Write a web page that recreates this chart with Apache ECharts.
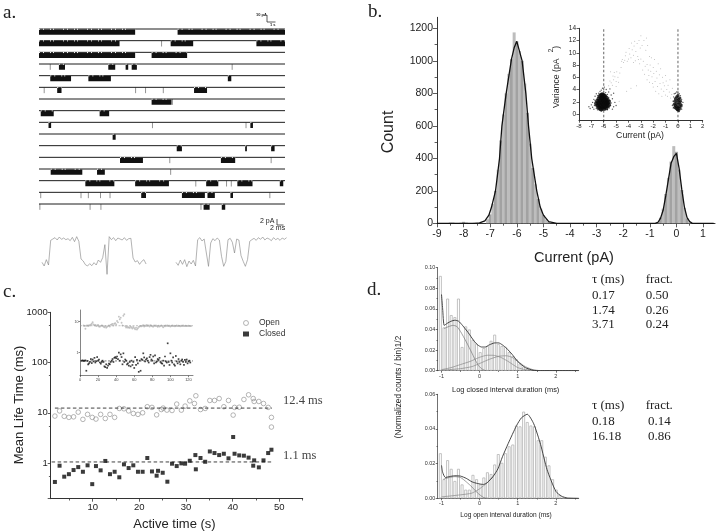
<!DOCTYPE html>
<html><head><meta charset="utf-8">
<script src="https://cdn.jsdelivr.net/npm/echarts@6/dist/echarts.min.js"></script>
<style>html,body{margin:0;padding:0;background:#fff}#c{width:720px;height:532px;filter:blur(0.4px)}</style>
</head><body><div id="c"></div>
<script>
// ---------- panel a: burst edges (s) per sweep, brief spikes (s) per sweep
const burstEdges = [
 [0,11.1,16.0,28.4],
 [0,9.3,15.2,17.8,25.1,28.4],
 [0,11.1,13.0,17.1],
 [2.3,3.0,8.0,8.8,10.0,10.3,10.7,11.3],
 [1.3,3.7,5.7,8.3,21.8,22.2],
 [2.1,2.6,17.9,19.4],
 [13.0,15.3],
 [0.2,1.7,7.0,8.1],
 [1.1,1.4,24.4,24.7],
 [8.5,8.85],
 [15.9,16.5,23.8,24.0,26.8,27.2],
 [9.35,12.0,21.0,22.65],
 [1.35,5.0,6.7,7.6],
 [5.35,8.7,11.1,15.0,19.3,20.7,22.9,24.65,27.8,28.2],
 [11.8,12.35,16.5,19.15,19.45,20.3,22.1,22.4],
 [19.0,19.7,21.1,21.5]
];
const spikeTimes = [
 [],[14.15],[],[1.3,22.3],[],[0.6,11.15,12.3,14.35],[15.4],[],[13.1,23.9],[],[],[15.1,26.8],[15.2],[18.1,21.65,22.2],[0.2,4.85,5.7,7.1,8.2,26.65],[0.1,5.9,7.15,18.7]
];
const sweepLength = 28.4;
// sample records (pA above closed level), 0.5 ms apart
const recordA = [0.2,-0.9,1.0,-0.6,6.8,7.2,7.6,6.9,7.8,7.1,7.5,7.0,7.3,6.7,7.7,6.4,7.9,6.5,1.2,0.6,-0.5,-0.9,-0.2,-0.8,0.1,-0.6,0.9,0.2,1.6,5.5,-3.4,7.9,7.0,7.6,6.7,7.5,7.2,6.9,7.6,6.8,7.3,7.4,1.5,0.3,0.7,-0.4,0.5,1.0,-0.3];
const recordB = [0.2,-0.7,0.9,-0.4,1.0,-1.1,0.6,-0.3,0.8,-0.9,7.0,7.6,6.6,7.2,3.0,-1.0,6.0,7.3,6.7,7.5,6.9,2.0,-1.0,0.5,7.0,7.4,6.2,3.0,7.2,6.9,2.2,0.5,-1.0,1.0,6.5,7.0,7.4,6.8,7.6,7.1,7.8,6.9,7.5,7.2,6.7,7.6,7.0,7.4,6.8,7.5,7.1,7.6];
const recordBStart = 30.9, recordStep = 0.5;

// ---------- panel b
const histBins = [-8.5,-8.4,-8.1,-8.0,-7.9,-7.6,-7.1,-7.0,-6.9,-6.8,-6.7,-6.6,-6.5,-6.4,-6.3,-6.2,-6.1,-6.0,-5.9,-5.8,-5.7,-5.6,-5.5,-5.4,-5.3,-5.2,-5.1,-5.0,-4.9,-4.8,-0.7,-0.6,-0.5,-0.4,-0.3,-0.2,-0.1,0.0,0.1,0.2,0.3,0.4,0.5];
const histCounts = [5,4,4,9,5,3,25,55,120,200,330,510,670,800,920,1010,1175,1120,1060,1000,860,680,490,340,240,150,90,50,25,8,8,35,90,180,280,380,475,440,330,205,95,30,8];
const fitX = [-9,-7.6,-7.4,-7.2,-7.05,-6.95,-6.8,-6.65,-6.56,-6.4,-6.2,-6.1,-6.0,-5.9,-5.8,-5.66,-5.56,-5.44,-5.25,-5.12,-5.0,-4.8,-4.5,-0.8,-0.7,-0.6,-0.5,-0.4,-0.3,-0.2,-0.1,0,0.1,0.2,0.3,0.4,0.5,0.6,1.4];
const fitY = [0,0,2,15,50,100,200,400,600,800,1010,1080,1120,1060,1000,800,600,400,200,100,50,10,0,0,5,30,80,170,270,370,410,430,340,210,100,35,10,0,0];
const insetCoreLeft = [[-6.6,1.7],[-6.5,2.1],[-6.5,1.4],[-6.4,2.5],[-6.4,1.8],[-6.4,1.1],[-6.3,2.9],[-6.3,2.2],[-6.3,1.5],[-6.3,0.9],[-6.2,3.1],[-6.2,2.6],[-6.2,1.9],[-6.2,1.3],[-6.2,0.8],[-6.1,3.2],[-6.1,2.7],[-6.1,2.2],[-6.1,1.7],[-6.1,1.1],[-6.0,3.0],[-6.0,2.5],[-6.0,2.0],[-6.0,1.5],[-6.0,0.9],[-5.9,2.9],[-5.9,2.3],[-5.9,1.8],[-5.9,1.2],[-5.8,2.6],[-5.8,2.1],[-5.8,1.6],[-5.8,1.0],[-5.7,2.3],[-5.7,1.8],[-5.7,1.3],[-5.6,2.0],[-5.6,1.5]];
const insetCoreRight = [[-0.3,1.6],[-0.25,1.1],[-0.25,2.1],[-0.2,1.4],[-0.2,2.5],[-0.15,0.9],[-0.15,1.8],[-0.1,2.8],[-0.1,1.2],[-0.05,2.2],[-0.05,0.7],[0,1.6],[0,3.0],[0,1.0],[0.05,2.4],[0.05,0.6],[0.1,1.9],[0.1,1.2],[0.15,2.6],[0.15,0.9],[0.2,1.6],[0.2,2.1],[0.25,1.3]];
const insetFringe = [[-7.2,1.2],[-7.1,0.9],[-7.0,1.5],[-6.9,1.9],[-6.9,1.1],[-6.8,2.4],[-6.8,0.8],[-6.75,1.4],[-6.7,2.9],[-6.7,2.2],[-6.6,3.3],[-6.6,0.9],[-6.5,3.0],[-6.5,0.7],[-6.4,3.4],[-6.3,3.7],[-6.2,3.9],[-6.2,0.5],[-6.1,4.2],[-6.0,3.7],[-5.95,4.4],[-5.9,0.6],[-5.85,3.5],[-5.8,4.0],[-5.7,3.2],[-5.7,0.7],[-5.6,3.6],[-5.6,2.7],[-5.55,1.0],[-5.5,2.2],[-5.5,4.1],[-5.45,1.4],[-5.4,3.1],[-5.4,1.8],[-5.3,2.5],[-5.3,0.8],[-5.2,1.2],[-5.2,3.4],[-5.1,1.9],[-5.0,1.4],[-0.45,1.4],[-0.4,2.1],[-0.38,1.0],[-0.35,2.8],[-0.3,3.3],[-0.2,3.4],[-0.1,3.6],[0,3.6],[0.1,3.3],[0.2,3.0],[0.3,2.4],[0.35,1.5],[0.4,1.9],[0.3,0.8],[0.1,0.4]];
const insetArc = [[-5.6,4.6],[-5.5,5.4],[-5.45,6.9],[-5.4,5.1],[-5.3,4.7],[-5.25,6.2],[-5.2,5.6],[-5.15,6.8],[-5.1,6.1],[-5.0,5.3],[-5.0,4.5],[-4.95,6.9],[-4.85,6.0],[-4.8,5.2],[-4.75,2.1],[-4.7,6.7],[-4.6,7.6],[-4.55,8.6],[-4.5,8.9],[-4.4,8.4],[-4.3,8.8],[-4.25,9.5],[-4.2,10.1],[-4.15,3.7],[-4.1,8.6],[-4.0,9.0],[-3.95,10.7],[-3.9,9.8],[-3.8,9.2],[-3.8,4.2],[-3.75,11.6],[-3.7,10.5],[-3.6,9.6],[-3.6,8.4],[-3.55,11.1],[-3.5,11.9],[-3.45,8.7],[-3.4,10.2],[-3.35,4.6],[-3.3,11.5],[-3.25,9.4],[-3.2,8.9],[-3.15,12.0],[-3.1,8.2],[-3.05,10.8],[-3.0,12.8],[-3.0,9.0],[-2.9,11.2],[-2.85,7.2],[-2.8,8.6],[-2.75,12.0],[-2.7,6.5],[-2.65,7.8],[-2.6,10.4],[-2.55,12.4],[-2.5,8.1],[-2.5,5.6],[-2.45,11.2],[-2.4,7.2],[-2.35,6.3],[-2.3,9.4],[-2.3,5.2],[-2.25,8.0],[-2.2,7.0],[-2.15,9.2],[-2.1,6.1],[-2.05,5.0],[-2.0,7.6],[-2.0,4.4],[-1.95,6.6],[-1.9,8.9],[-1.85,5.3],[-1.8,3.7],[-1.75,7.0],[-1.7,5.9],[-1.65,4.5],[-1.6,8.2],[-1.55,3.3],[-1.5,6.4],[-1.45,5.0],[-1.4,7.4],[-1.35,4.1],[-1.3,2.9],[-1.25,6.0],[-1.2,5.1],[-1.15,3.7],[-1.1,4.6],[-1.0,6.3],[-1.0,3.1],[-0.95,5.4],[-0.9,4.0],[-0.85,2.9],[-0.8,4.7],[-0.7,3.6],[-0.65,5.6],[-0.6,2.6],[-0.5,3.2],[-0.45,4.2]];

// ---------- panel c
const openTimes = [1.9,2.9,3.9,4.9,5.9,6.9,7.9,8.9,9.9,10.7,11.7,12.7,13.7,14.7,15.7,16.7,17.7,18.7,19.7,20.7,21.7,22.7,23.7,24.7,25.1,25.9,27,28,29,29.8,30.8,31.8,32.1,33.1,34.1,35.1,36.1,37.1,38.1,39.1,40.1,40.4,41.4,42.4,43.4,44.4,44.6,45.6,46.6,47.6,48.3,48.3];
const openLife = [8.6,10.9,8.5,8.1,8.3,10.3,7.4,9.3,8.1,7.5,9.3,7.7,9.3,8.1,12.2,12,10.9,9.7,9.3,10,13.2,12.8,9.1,11.6,12.4,11.3,11.1,14.9,11.3,13.6,17.3,15.3,21.8,11.6,12.2,17.6,17.6,19.2,13.2,17.6,9,12.8,12.9,18.4,22.8,19.2,16.8,16.8,15.3,12.8,8.1,5.2];
const closedTimes = [1.9,2.9,3.9,4.9,5.9,6.9,7.9,8.9,9.9,10.7,11.7,12.7,13.7,14.7,15.7,16.7,17.7,18.7,19.7,20.7,21.7,22.7,23.7,24,25,26,27,28,29,29.8,30.8,32,32.1,33.1,34.1,35.1,36.1,37.1,38.1,39.1,40.1,40.4,41.4,42.4,43.4,44.4,44.6,45.6,46.6,47.6,48.3];
const closedLife = [0.42,0.885,0.535,0.6,0.725,0.83,0.67,0.9,0.38,0.87,0.715,1.1,0.6,0.67,0.52,0.94,0.795,0.9,0.67,0.67,1.26,0.68,0.56,0.7,0.64,0.425,0.97,0.87,0.985,0.97,1.11,1.44,0.75,1.26,1.06,1.7,1.58,1.44,1.53,1.24,3.3,1.53,1.42,1.4,1.28,0.885,1.13,0.82,1.13,1.58,1.84];
const openMean = 12.4, closedMean = 1.05;
const openInset = [7.5,7.3,5.9,7.4,7.6,7.2,7.7,7.5,8.0,8.6,9.6,8.1,7.6,7.9,7.2,7.5,7.9,7.0,6.9,7.3,7.6,7.4,7.0,6.6,7.2,6.4,6.9,7.2,7.6,7.0,7.9,8.2,8.5,7.5,8.6,9.0,8.2,10.5,9.5,14.5,12.0,13.5,9.2,7.5,15.5,17.5,7.2,6.5,7.0,6.4,6.6,6.3,6.9,6.5,6.0,6.7,6.2,5.7,6.4,5.6,6.1,6.8,7.0,7.3,7.1,7.4,7.7,7.0,7.5,7.2,7.8,7.3,7.6,7.0,7.7,7.4,7.1,6.9,7.6,7.3,7.5,7.2,6.8,7.4,7.0,7.3,7.6,7.2,6.6,7.4,7.1,7.6,7.3,7.5,7.2,7.4,7.0,7.3,7.5,7.2,7.4,7.1,7.3,7.5,7.2,7.4,7.3,7.1,7.4,7.3,7.5,7.2,7.3,7.4,7.2,7.3,7.4,7.3,7.2,7.3];
const closedInset = [0.55,0.56,0.54,0.55,0.56,0.26,0.54,0.42,0.45,0.5,0.62,0.46,0.6,0.52,0.68,0.48,0.53,0.72,0.55,0.6,0.48,0.44,0.5,0.55,0.5,0.36,0.34,0.42,0.32,0.38,0.44,0.42,0.5,0.55,0.62,0.5,0.68,0.72,0.66,0.75,0.62,1.0,0.55,0.88,0.72,0.42,0.95,0.5,0.6,0.55,0.42,0.45,0.38,0.5,0.36,0.55,0.4,0.5,0.32,0.72,0.4,0.58,0.45,0.24,0.55,0.26,0.62,0.58,0.95,0.7,0.52,0.6,0.65,0.55,0.48,0.72,0.85,0.6,0.55,0.75,0.45,0.82,0.48,0.52,0.62,0.58,0.68,0.5,0.46,0.44,0.55,0.38,0.75,0.52,0.48,2.0,0.5,0.4,0.95,0.55,0.48,0.7,0.42,0.38,0.78,0.52,0.45,0.62,0.5,0.42,0.55,0.6,0.5,0.4,0.58,0.5,0.6,0.45,0.52,0.55,0.48];
const openInsetStart = 4, closedInsetStart = 2;
const insetOpenLevel = 7.4, insetClosedLevel = 0.54;

// ---------- panel d
const binStart = -1.03, binStep = 0.095;
const closedDwell = [.092,.042,.070,.054,.052,.070,.023,.043,.040,.030,.026,.018,.022,.024,.029,.035,.026,.024,.023,.018,.014,.011,.007,.004,.002,.001];
const closedFit = [[-1,.074],[-.97,.06],[-.93,.044],[-.85,.046],[-.75,.048],[-.65,.049],[-.55,.048],[-.45,.044],[-.3,.037],[-.15,.029],[-.05,.025],[.05,.023],[.15,.023],[.25,.025],[.4,.027],[.5,.027],[.6,.025],[.7,.022],[.85,.016],[1,.009],[1.2,.003],[1.4,.0005],[1.6,0],[2.6,0]];
const closedComp1 = [[-.93,.041],[-.8,.043],[-.7,.044],[-.6,.043],[-.5,.038],[-.35,.028],[-.2,.017],[-.05,.006],[.05,.002],[.15,0]];
const closedComp2 = [[-1,.001],[-.75,.003],[-.5,.006],[-.25,.009],[0,.013],[.2,.015],[.35,.015],[.55,.013],[.75,.009],[1,.003],[1.2,.001],[1.4,0]];
const closedComp3 = [[-1,.0005],[-.5,.002],[-.2,.004],[0,.007],[.25,.011],[.5,.014],[.7,.0145],[.85,.013],[1,.009],[1.2,.004],[1.4,.001],[1.6,0]];
const openDwell = [.026,.011,.022,.017,.010,.017,.008,.005,.005,.0135,.011,.008,.012,.015,.014,.0195,.0255,.0205,.026,.030,.031,.042,.0415,.050,.044,.042,.0415,.0335,.0335,.024,.019,.011,.005,.002,.0005];
const openFit = [[-1,.019],[-.97,.015],[-.9,.012],[-.8,.0125],[-.65,.013],[-.5,.0128],[-.35,.0115],[-.2,.0095],[-.05,.0085],[.1,.008],[.2,.009],[.35,.0125],[.48,.017],[.6,.024],[.75,.0316],[.97,.042],[1.1,.0465],[1.25,.0485],[1.42,.043],[1.6,.031],[1.77,.0165],[2,.004],[2.15,.0012],[2.3,.0002],[2.6,0]];
const openComp1 = [[-.95,.011],[-.8,.012],[-.65,.0125],[-.5,.012],[-.35,.0095],[-.2,.0065],[-.05,.003],[.1,.0005],[.2,0]];
const openComp2 = [[-1,.0008],[-.5,.002],[-.2,.003],[0,.0055],[.2,.009],[.35,.0125]];
const closedTable = [['0.17','0.50'],['1.74','0.26'],['3.71','0.24']];
const openTable = [['0.18','0.14'],['16.18','0.86']];

// ---------- tick lists
const range = (a,b,s)=>{const r=[];for(let i=0;a+i*s<=b+1e-9;i++)r.push(+(a+i*s).toFixed(4));return r;};
const SANS='"Liberation Sans",Arial,sans-serif', SERIF='"Liberation Serif","Times New Roman",serif';
const AX='#333';
const grids=[], xAxes=[], yAxes=[], series=[], graphic=[];

function axis(dim,g,o){
  const base={gridIndex:g,type:o.type||'value',min:o.min,max:o.max,position:o.pos,splitLine:{show:false},
    axisLine:{show:true,onZero:false,lineStyle:{color:AX,width:o.lw||1}},
    axisTick:{show:true,length:o.tick||3,lineStyle:{color:AX,width:o.lw||.8}},
    axisLabel:{show:true,fontSize:o.size,color:o.color||'#222',fontFamily:SANS,margin:o.margin||3,formatter:o.fmt||(v=>String(v)),hideOverlap:false}};
  if(o.type==='log'){base.logBase=10;base.axisLabel.showMinLabel=false;base.axisLabel.showMaxLabel=o.showMax!==false;base.minorTick=o.minor?{show:true,splitNumber:2,length:(o.tick||3)*.6,lineStyle:{color:AX,width:o.lw||.8}}:{show:false};}
  else{base.axisTick.customValues=o.major;base.axisLabel.customValues=o.major;}
  const list=dim==='x'?xAxes:yAxes, idx=list.length;
  list.push(base);
  if(o.minorVals){
    list.push({gridIndex:g,type:'value',min:o.min,max:o.max,position:o.pos,splitLine:{show:false},
      axisLine:{show:false,onZero:false},axisLabel:{show:false},
      axisTick:{show:true,length:(o.tick||3)*.6,customValues:o.minorVals,lineStyle:{color:AX,width:o.lw||.8}}});
  }
  return idx;
}
function hiddenAxis(dim,g,o){
  const list=dim==='x'?xAxes:yAxes, idx=list.length;
  list.push({gridIndex:g,type:'value',show:false,min:o.min,max:o.max,inverse:!!o.inverse});
  return idx;
}
function grid(l,t,r,b){grids.push({left:l,top:t,width:r-l,height:b-t});return grids.length-1;}
function text(x,y,s,font,o={}){
  graphic.push({type:'text',x,y,rotation:o.rot||0,silent:true,style:{text:s,font:font,fill:o.fill||'#222',textAlign:o.align||'left',textVerticalAlign:'middle'}});
}
function bar(points){graphic.push({type:'polyline',silent:true,shape:{points},style:{stroke:'#333',lineWidth:.8,fill:null}});}

// ---------- panel a
{
  const g=grid(39,29,285,204);
  const xi=hiddenAxis('x',g,{min:0,max:sweepLength}), yi=hiddenAxis('y',g,{min:1,max:16,inverse:true});
  const base=[],burst=[],flick=[],spike=[];
  burstEdges.forEach((edges,r)=>{
    const row=r+1;
    base.push([0,row],[sweepLength,row],[sweepLength,null]);
    for(let i=0;i<edges.length;i+=2){
      burst.push([edges[i],row+.26],[edges[i+1],row+.26],[edges[i+1],null]);
      flick.push([edges[i],row+.02],[edges[i+1],row+.02],[edges[i+1],null]);
    }
    spikeTimes[r].forEach(t=>spike.push([t,row],[t,row+.5],[t,null]));
  });
  const common={type:'line',xAxisIndex:xi,yAxisIndex:yi,showSymbol:false,symbol:'none',clip:false,connectNulls:false,silent:true,animation:false};
  series.push({...common,name:'spike',data:spike,lineStyle:{color:'#666',width:.7}});
  series.push({...common,name:'baseline',data:base,lineStyle:{color:'#1c1c1c',width:1}});
  series.push({...common,name:'burst',data:burst,lineStyle:{color:'#111',width:5.2}});
  series.push({...common,name:'burst flicker',data:flick,lineStyle:{color:'#fff',width:1,type:[1,3,1,6,1,2,1,9]}});
}
{
  const g=grid(42,230,287,275);
  const xi=hiddenAxis('x',g,{min:0,max:56.5}), yi=hiddenAxis('y',g,{min:-3.6,max:9.9});
  const common={type:'line',xAxisIndex:xi,yAxisIndex:yi,symbol:'none',silent:true,lineStyle:{color:'#808080',width:.6}};
  series.push({...common,name:'record A',data:recordA.map((v,i)=>[i*recordStep,v])});
  series.push({...common,name:'record B',data:recordB.map((v,i)=>[recordBStart+i*recordStep,v])});
}
text(3,13,'a.','19px '+SERIF);
text(256,15,'10 pA','bold 4px '+SANS);
text(270,24.5,'1 s','bold 4px '+SANS);
bar([[267,15],[267,22],[275.5,22]]);
text(260,221,'2 pA','7px '+SANS);
text(270,228,'2 ms','7px '+SANS);
bar([[277,219],[277,225],[283.5,225]]);

// ---------- panel b
{
  const g=grid(437,17.3,715,223.3);
  const xi=axis('x',g,{min:-9,max:1.45,pos:'bottom',major:range(-9,1,1),minorVals:range(-8.5,1,1),size:10.5,tick:4,margin:5});
  const yi=axis('y',g,{min:0,max:1268,pos:'left',major:range(0,1200,200),minorVals:range(100,1100,200),size:10.5,tick:4,margin:4});
  series.push({type:'bar',name:'counts',xAxisIndex:xi,yAxisIndex:yi,barWidth:3,silent:true,
    data:histBins.map((x,i)=>({value:[x,histCounts[i]],itemStyle:{color:i%2?'#a2a2a2':'#bdbdbd'}}))});
  series.push({type:'line',name:'fit',xAxisIndex:xi,yAxisIndex:yi,symbol:'none',silent:true,data:fitX.map((x,i)=>[x,fitY[i]]),lineStyle:{color:'#111',width:1.3},z:3});
}
text(368,12,'b.','19px '+SERIF);
text(389,132,'Count','16px '+SANS,{rot:Math.PI/2,align:'center'});
text(574,258,'Current (pA)','14.5px '+SANS,{align:'center'});
{
  const g=grid(579,28.3,702.7,120.7);
  const xi=axis('x',g,{min:-8,max:2,pos:'bottom',major:range(-8,2,1),size:6,tick:2,margin:3});
  const yi=axis('y',g,{min:-1.09,max:14,pos:'left',major:range(0,14,2),size:6.5,tick:2.5,margin:3});
  const sc=(name,data,size,color,z)=>series.push({type:'scatter',name,xAxisIndex:xi,yAxisIndex:yi,silent:true,data,symbolSize:size,itemStyle:{color},z});
  sc('arc',insetArc,1,'#a5a5a5',2);
  sc('fringe',insetFringe,1.4,'#333',3);
  sc('core left',insetCoreLeft,4.6,'#0a0a0a',4);
  sc('core right',insetCoreRight,3.2,'#0a0a0a',4);
  [-6,0].forEach(v=>series.push({type:'line',name:'level '+v,xAxisIndex:xi,yAxisIndex:yi,symbol:'none',silent:true,clip:false,data:[[v,-2],[v,14]],lineStyle:{color:'#222',width:.7,type:[2.5,2]}}));
}
text(640,136,'Current (pA)','8.7px '+SANS,{align:'center'});
text(557,77,'Variance (pA    )','8.7px '+SANS,{rot:Math.PI/2,align:'center'});
text(551,50.5,'2','6.5px '+SANS,{rot:Math.PI/2,align:'center'});

// ---------- panel c
{
  const g=grid(50.7,312.3,302.7,498.7);
  const xi=axis('x',g,{min:1,max:55,pos:'bottom',major:range(10,50,10),minorVals:range(5,55,10),size:9.5,tick:3,margin:4});
  const yi=axis('y',g,{type:'log',min:0.195,max:1000,pos:'left',size:9.5,tick:3,minor:true,fmt:v=>{const r=Math.round(v*100)/100;return [1,10,100,1000].includes(r)?String(r):'';}});
  series.push({type:'scatter',name:'Open',xAxisIndex:xi,yAxisIndex:yi,silent:true,symbol:'circle',symbolSize:4.6,data:openTimes.map((t,i)=>[t,openLife[i]]),itemStyle:{color:'rgba(255,255,255,0)',borderColor:'#8a8a8a',borderWidth:.8}});
  series.push({type:'scatter',name:'Closed',xAxisIndex:xi,yAxisIndex:yi,silent:true,symbol:'rect',symbolSize:4,data:closedTimes.map((t,i)=>[t,closedLife[i]]),itemStyle:{color:'#0a0a0a'}});
  [[1.9,openMean],[1.2,closedMean]].forEach(([a,v])=>series.push({type:'line',name:'mean '+v,xAxisIndex:xi,yAxisIndex:yi,symbol:'none',silent:true,data:[[a,v],[48.4,v]],lineStyle:{color:'#111',width:.8,type:[3.5,2.5]}}));
}
text(3,292,'c.','19px '+SERIF);
text(19,405,'Mean Life Time (ms)','13px '+SANS,{rot:Math.PI/2,align:'center'});
text(174.5,524,'Active time (s)','13px '+SANS,{align:'center'});
text(283,401,'12.4 ms','12.5px '+SERIF,{fill:'#444'});
text(283,456,'1.1 ms','12.5px '+SERIF,{fill:'#444'});
{
  const g=grid(80,310,193,375.7);
  const xi=axis('x',g,{min:0,max:125,pos:'bottom',major:range(0,120,20),size:4,tick:1.5,margin:2,lw:.6,color:'#444'});
  const yi=axis('y',g,{type:'log',min:0.18,max:23.8,pos:'left',size:3.6,tick:1.5,margin:1.5,lw:.6,color:'#444',showMax:false,fmt:v=>{const r=Math.round(v*100)/100;return [1,10].includes(r)?String(r):'';}});
  series.push({type:'line',name:'inset open level',xAxisIndex:xi,yAxisIndex:yi,symbol:'none',silent:true,data:[[0,insetOpenLevel],[125,insetOpenLevel]],lineStyle:{color:'#999',width:.6,type:[2,1.5]}});
  series.push({type:'line',name:'inset closed level',xAxisIndex:xi,yAxisIndex:yi,symbol:'none',silent:true,data:[[0,insetClosedLevel],[125,insetClosedLevel]],lineStyle:{color:'#222',width:.6,type:[2,1.5]}});
  series.push({type:'scatter',name:'inset open',xAxisIndex:xi,yAxisIndex:yi,silent:true,symbol:'circle',symbolSize:1.9,data:openInset.map((v,i)=>[openInsetStart+i,v]),itemStyle:{color:'#b5b5b5'}});
  series.push({type:'scatter',name:'inset closed',xAxisIndex:xi,yAxisIndex:yi,silent:true,symbol:'rect',symbolSize:1.7,data:closedInset.map((v,i)=>[closedInsetStart+i,v]),itemStyle:{color:'#111'}});
}

// ---------- panel d
function dwellPanel(top,bottom,ymax,major,minor,counts,curves){
  const g=grid(437.7,top,578.7,bottom);
  const xi=axis('x',g,{min:-1.1,max:2.6,pos:'bottom',major:[-1,0,1,2],minorVals:[-.5,.5,1.5,2.5],size:5.5,tick:2,margin:2.5,lw:.7,color:'#333'});
  const yi=axis('y',g,{min:0,max:ymax,pos:'left',major,minorVals:minor,size:5.4,tick:2,margin:2.5,lw:.7,color:'#333',fmt:v=>v.toFixed(2)});
  series.push({type:'bar',name:'dwell',xAxisIndex:xi,yAxisIndex:yi,barWidth:2.9,silent:true,
    data:counts.map((v,i)=>[binStart+i*binStep,v]),itemStyle:{color:'rgba(255,255,255,0)',borderColor:'#b4b4b4',borderWidth:.8}});
  curves.forEach(([data,color],i)=>series.push({type:'line',name:'curve'+top+i,xAxisIndex:xi,yAxisIndex:yi,symbol:'none',silent:true,smooth:.2,data,lineStyle:{color,width:i?.7:.9},z:i?3:4}));
}
dwellPanel(267.7,370.7,.10,range(0,.1,.02),range(.01,.09,.02),closedDwell,[[closedFit,'#333'],[closedComp1,'#777'],[closedComp2,'#888'],[closedComp3,'#888']]);
dwellPanel(394.3,498.3,.06,range(0,.06,.02),range(.01,.05,.02),openDwell,[[openFit,'#333'],[openComp1,'#777'],[openComp2,'#888']]);
text(367,290,'d.','19px '+SERIF);
text(399,387,'(Normalized counts / bin)1/2','8.2px '+SANS,{rot:Math.PI/2,align:'center'});
text(505.7,389.5,'Log closed interval duration (ms)','7.4px '+SANS,{align:'center'});
text(506,515,'Log open interval duration (ms)','6.6px '+SANS,{align:'center'});
const TF='13px '+SERIF;
text(592,280,'τ (ms)',TF); text(645.7,280,'fract.',TF);
closedTable.forEach((r,i)=>{text(592,295.7+i*14.6,r[0],TF);text(645.7,295.7+i*14.6,r[1],TF);});
text(592,406,'τ (ms)',TF); text(645.7,406,'fract.',TF);
openTable.forEach((r,i)=>{text(592,422+i*14.3,r[0],TF);text(648,422+i*14.3,r[1],TF);});

const chart=echarts.init(document.getElementById('c'),null,{renderer:'canvas',width:720,height:532});
chart.setOption({animation:false,backgroundColor:'#fff',grid:grids,xAxis:xAxes,yAxis:yAxes,series,graphic,
  legend:{data:[{name:'Open',icon:'circle',itemStyle:{borderWidth:.8,borderColor:'#8a8a8a',color:'#fff'}},{name:'Closed',icon:'rect'}],orient:'vertical',left:243,top:318.5,padding:0,itemWidth:6,itemHeight:5,itemGap:2,selectedMode:false,textStyle:{fontSize:8.5,fontFamily:SANS,color:'#333',padding:[0,0,0,5]}}});
</script></body></html>
